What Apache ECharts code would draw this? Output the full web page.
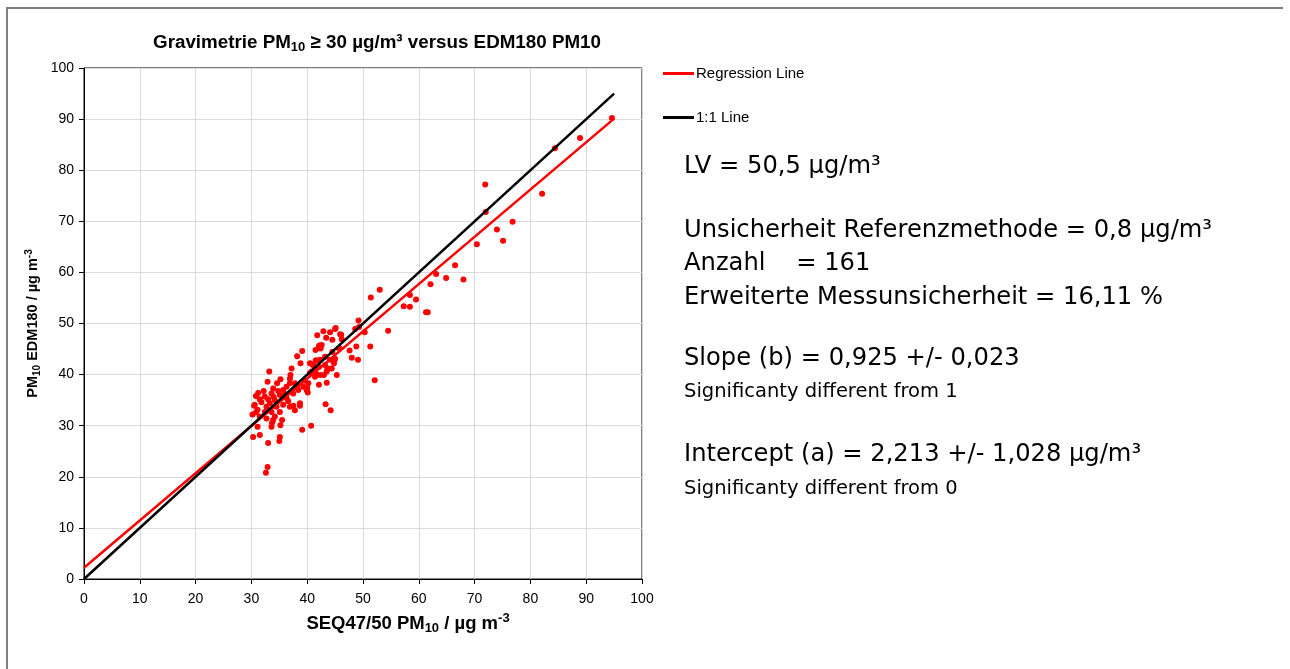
<!DOCTYPE html>
<html>
<head>
<meta charset="utf-8">
<script src="https://cdn.jsdelivr.net/npm/echarts@6/dist/echarts.min.js"></script>
<style>
  html, body { margin: 0; padding: 0; background: #fff; }
  #chart { width: 1290px; height: 669px; }
</style>
</head>
<body>
<div id="chart"></div>
<script>
// SEQ47/50 (reference, x) vs EDM180 (y)
const seqX = [
  94.6, 88.9, 84.4, 82.1, 71.9, 72.0, 76.8, 74.0, 75.1, 70.4, 66.5, 63.1, 64.9, 68.0, 62.1, 58.4, 59.5, 57.3, 58.4, 61.3, 61.6,
  53.0, 51.4, 49.2, 48.6, 49.3, 54.5, 50.3, 51.3, 48.8, 48.0, 49.1, 52.1, 47.6,
  45.1, 44.1, 42.9, 43.4, 44.5, 46.1, 46.2, 41.8, 42.2, 41.5, 42.4, 45.8, 45.0, 43.2, 41.6, 39.1, 38.2, 38.8, 37.2, 41.0,
  41.5, 43.6, 42.3, 45.3, 43.5, 42.1, 43.3, 44.2, 40.7, 39.1,
  33.2, 35.2, 32.9, 36.9, 40.0, 40.1, 38.2, 38.7, 37.5, 37.8, 30.8, 31.5, 30.5, 30.2, 30.8, 31.1, 30.3, 31.5, 33.0, 35.1,
  35.0, 32.9, 32.6, 33.7, 35.2, 35.5, 34.2, 32.4,
  37.0, 32.4, 33.6, 33.9, 34.6, 34.2, 33.3, 32.7, 33.6, 34.5, 35.1, 35.7, 36.3, 36.9, 37.8, 37.5, 38.4, 39.3, 39.9, 40.2,
  36.3, 35.7, 35.1, 33.9, 32.7, 33.6, 30.6, 31.1, 31.5, 38.7, 36.9, 40.8, 41.4, 42.3, 40.5, 42.1, 42.6, 44.4, 43.5, 43.2,
  44.1, 44.5, 44.9, 44.8, 41.5, 43.8, 42.1, 40.5, 41.4, 43.0, 45.9, 45.7, 45.0,
  31.8, 32.2, 34.8, 36.0, 33.0, 31.2, 34.0, 36.6, 39.6
];
const edmY = [
  90.2, 86.3, 84.3, 75.4, 77.2, 71.8, 69.9, 68.4, 66.2, 65.5, 61.4, 59.7, 58.9, 58.6, 57.7, 55.6, 54.7, 53.4, 53.3, 52.2, 52.2,
  56.6, 55.1, 50.6, 48.9, 49.3, 48.6, 48.3, 45.5, 45.5, 43.3, 42.9, 38.9, 44.7,
  49.1, 48.3, 48.5, 47.2, 46.8, 47.8, 46.9, 47.7, 45.7, 44.8, 45.1, 45.1, 43.1, 43.5, 42.8, 44.6, 43.6, 42.2, 41.2, 41.9,
  40.3, 41.1, 39.9, 39.9, 38.4, 38.0, 34.2, 33.0, 30.0, 29.2,
  40.6, 39.1, 38.6, 39.2, 37.4, 36.5, 37.8, 33.9, 33.9, 33.0, 35.8, 35.2, 33.9, 32.2, 32.6, 29.8, 27.8, 28.2, 26.6, 27.8,
  27.0, 21.9, 20.8, 30.6, 30.1, 31.1, 31.8, 32.7,
  39.9, 35.7, 36.3, 37.3, 38.3, 35.0, 34.4, 33.7, 32.7, 33.7, 36.0, 37.0, 37.6, 38.3, 38.3, 36.3, 37.0, 37.6, 37.0, 38.3,
  35.4, 34.1, 32.7, 31.1, 31.4, 29.8, 34.1, 33.1, 31.8, 34.4, 33.7, 40.6, 41.5, 42.9, 42.2, 45.5, 45.8, 41.2, 40.6, 41.9,
  42.9, 44.4, 42.9, 42.2, 42.7, 41.2, 41.5, 40.3, 39.6, 39.9, 47.9, 45.1, 48.9,
  34.6, 36.8, 36.8, 36.2, 35.2, 36.4, 35.6, 34.8, 38.8
];

const slope = 0.925;
const intercept = 2.213;
const lineRange = [0, 95];
const axisTicks = [0, 100, 10];

const statLines = [
  { text: 'LV = 50,5 µg/m³', y: 167, size: 24.2 },
  { text: 'Unsicherheit Referenzmethode = 0,8 µg/m³', y: 231, size: 24.2 },
  { text: 'Anzahl    = 161', y: 264, size: 24.2 },
  { text: 'Erweiterte Messunsicherheit = 16,11 %', y: 298, size: 24.2 },
  { text: 'Slope (b) = 0,925 +/- 0,023', y: 359, size: 24.2 },
  { text: 'Significanty different from 1', y: 392, size: 19.5 },
  { text: 'Intercept (a) = 2,213 +/- 1,028 µg/m³', y: 455, size: 24.2 },
  { text: 'Significanty different from 0', y: 489, size: 19.5 }
];

const points = seqX.map((x, i) => [x, edmY[i]]);
const regLine = lineRange.map((x) => [x, slope * x + intercept]);
const oneLine = lineRange.map((x) => [x, x]);

const chart = echarts.init(document.getElementById('chart'));

// rich styles for bold labels with sub/superscripts
const makeRich = (size) => ({
  b: { fontFamily: 'Liberation Sans', fontWeight: 'bold', fontSize: size, color: '#000' },
  sub: { fontFamily: 'Liberation Sans', fontWeight: 'bold', fontSize: Math.round(size * 0.7), color: '#000', padding: [Math.round(size * 0.55), 0, 0, 0] },
  sup: { fontFamily: 'Liberation Sans', fontWeight: 'bold', fontSize: Math.round(size * 0.7), color: '#000', padding: [0, 0, Math.round(size * 0.55), 0] }
});

const valueAxis = {
  type: 'value',
  min: axisTicks[0],
  max: axisTicks[1],
  interval: axisTicks[2],
  axisLine: { show: true, onZero: false, lineStyle: { color: '#000', width: 1 } },
  axisTick: { show: true, length: 5, lineStyle: { color: '#000' } },
  axisLabel: { color: '#000', fontFamily: 'Liberation Sans', fontSize: 14 },
  splitLine: { show: true, lineStyle: { color: '#d9d9d9', width: 1 } },
  nameLocation: 'middle'
};

chart.setOption({
  animation: false,
  backgroundColor: '#fff',
  title: {
    text: '{b|Gravimetrie PM}{sub|10}{b| ≥ 30 µg/m³ versus EDM180 PM10}',
    left: 372,
    top: 26,
    textAlign: 'center',
    textStyle: { rich: makeRich(18.8) }
  },
  legend: {
    orient: 'vertical',
    left: 658,
    top: 61,
    itemGap: 29,
    itemWidth: 31,
    itemHeight: 3,
    icon: 'rect',
    textStyle: { fontFamily: 'Liberation Sans', fontSize: 15, color: '#000', padding: [0, 0, 0, -3] },
    data: ['Regression Line', '1:1 Line']
  },
  grid: { left: 84, right: 648, top: 68, bottom: 90, show: true, borderColor: '#000', borderWidth: 1 },
  xAxis: Object.assign({}, valueAxis, {
    name: '{b|SEQ47/50 PM}{sub|10}{b| / µg m}{sup|-3}',
    nameGap: 33,
    nameTextStyle: { rich: makeRich(18.5), padding: [0, 0, 0, 90] },
    axisLabel: Object.assign({}, valueAxis.axisLabel, { margin: 13 })
  }),
  yAxis: Object.assign({}, valueAxis, {
    name: '{b|PM}{sub|10}{b| EDM180 / µg m}{sup|-3}',
    nameGap: 42,
    nameRotate: 90,
    nameTextStyle: { rich: makeRich(14.5) },
    axisLabel: Object.assign({}, valueAxis.axisLabel, { margin: 10 })
  }),
  graphic: [
    { type: 'polyline', shape: { points: [[7, 669], [7, 8], [1283, 8]] }, style: { stroke: '#7f7f7f', lineWidth: 2, fill: null } }
  ].concat(statLines.map((l) => ({
    type: 'text',
    x: 684,
    y: l.y,
    style: { text: l.text, fontFamily: 'DejaVu Sans', fontSize: l.size, fill: '#000', verticalAlign: 'middle' }
  }))),
  series: [
    {
      name: 'Regression Line', type: 'line', data: regLine, symbol: 'none',
      lineStyle: { color: '#ff0000', width: 2.5 }, itemStyle: { color: '#ff0000' }
    },
    {
      name: '1:1 Line', type: 'line', data: oneLine, symbol: 'none',
      lineStyle: { color: '#000', width: 2.5 }, itemStyle: { color: '#000' }
    },
    {
      name: 'Messwerte', type: 'scatter', data: points, symbolSize: 6,
      itemStyle: { color: '#ff0000', opacity: 1 }
    }
  ]
});
</script>
</body>
</html>
